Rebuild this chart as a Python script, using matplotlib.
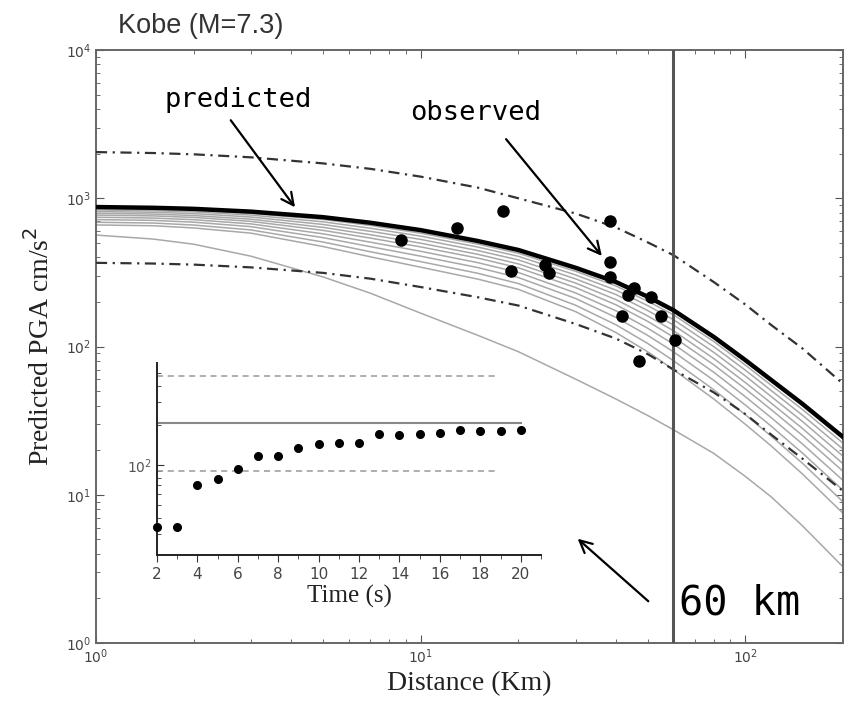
import numpy as np
import matplotlib
matplotlib.use("Agg")
import matplotlib.pyplot as plt
from matplotlib.ticker import LogLocator, NullFormatter, FixedLocator, MultipleLocator

dist = [1, 1.5, 2, 3, 5, 7, 10, 15, 20, 30, 40, 50, 60, 80, 100, 120, 150, 200]

# predicted PGA (thick black) and the +/- band (dash-dot)
pred = [873, 863, 849, 813, 746, 684, 610, 515, 448, 340, 272, 217, 176, 116,
        81, 59.6, 41, 24.5]
upper = [2050, 2020, 1980, 1890, 1720, 1580, 1400, 1180, 1000, 790, 635, 505,
         414, 272, 192, 140, 97, 56]
lower = [367, 363, 357, 342, 314, 287, 252, 215, 189, 142, 113, 89, 70, 49,
         35, 25.5, 17.5, 10.6]

# grey curves (one per time step)
grey_curves = [
    [854, 844, 829, 791, 720, 656, 582, 491, 426, 322, 256, 202, 164, 108,
     75, 54.9, 37.6, 22.3],
    [835, 825, 810, 771, 694, 628, 556, 469, 406, 304, 240, 189, 152, 99.7,
     69.3, 50.6, 34.4, 20.3],
    [814, 805, 788, 748, 666, 599, 528, 444, 384, 286, 224, 175, 140, 91.3,
     63.3, 46.1, 31.2, 18.2],
    [792, 783, 765, 723, 637, 568, 498, 419, 361, 268, 207, 161, 128, 82.9,
     57.2, 41.6, 28.0, 16.2],
    [770, 761, 743, 699, 608, 539, 470, 395, 340, 250, 191, 148, 116, 75.2,
     51.8, 37.6, 25.1, 14.4],
    [745, 736, 717, 672, 576, 506, 439, 368, 316, 230, 174, 133, 104, 67,
     45.9, 33.2, 22.0, 12.5],
    [718, 710, 690, 644, 543, 472, 407, 341, 292, 211, 157, 119, 92.3, 59.1,
     40.3, 29.1, 19.1, 10.7],
    [689, 681, 660, 612, 507, 436, 374, 312, 266, 190, 140, 105, 80.4, 51.1,
     34.7, 24.9, 16.3, 8.96],
    [661, 653, 631, 582, 473, 403, 343, 285, 243, 172, 124, 92.3, 70, 44.2,
     29.9, 21.4, 13.8, 7.5],
    [565, 531, 490, 407, 295, 229, 168, 119, 92.3, 60.3, 44.2, 34.3, 27.5,
     19.0, 13.3, 9.7, 6.17, 3.26],
]

# observed stations
obs_dist = [8.72, 12.9, 17.9, 19.0, 24.1, 24.9, 38.2, 38.2, 38.2, 45.5, 43.5,
            51.3, 41.7, 55.0, 60.9, 47.0]
obs_pga = [523, 627, 820, 325, 355, 312, 703, 373, 296, 247, 222,
           215, 161, 161, 111, 80]

# inset: prediction vs time
time_s = list(range(2, 21))
time_pga = [34, 34, 71, 78, 93, 118, 118, 134, 145, 147, 147, 173, 169, 173,
            175, 184, 181, 181, 184]
inset_obs = 208
inset_hi = 472
inset_lo = 90

cut_km = 60

fig = plt.figure(figsize=(8.48, 7.04), dpi=100)
ax = fig.add_axes([0.1132, 0.0866, 0.881, 0.8423])
ax.set_xscale("log")
ax.set_yscale("log")

for c in grey_curves:
    ax.plot(dist, c, color="#a8a8a8", lw=1.1, zorder=2)
ax.plot(dist, pred, color="black", lw=3.2, zorder=4)
dashdot = (0, (5, 2.5, 1, 2.5))
ax.plot(dist, upper, color="#333333", lw=1.6, linestyle=dashdot, zorder=3)
ax.plot(dist, lower, color="#333333", lw=1.6, linestyle=dashdot, zorder=3)
ax.plot(obs_dist, obs_pga, "o", color="black", ms=8, zorder=5)
ax.axvline(cut_km, color="#555555", lw=2.2, zorder=3)

ax.set_xlim(1, 200)
ax.set_ylim(1, 1e4)
ax.xaxis.set_major_locator(FixedLocator([1, 10, 100]))
ax.yaxis.set_major_locator(FixedLocator([1, 10, 100, 1000, 10000]))
ax.xaxis.set_minor_locator(LogLocator(base=10, subs=np.arange(2, 10)))
ax.yaxis.set_minor_locator(LogLocator(base=10, subs=np.arange(2, 10)))
ax.xaxis.set_minor_formatter(NullFormatter())
ax.yaxis.set_minor_formatter(NullFormatter())
ax.set_xticklabels(["$10^{0}$", "$10^{1}$", "$10^{2}$"])
ax.set_yticklabels(["$10^{0}$", "$10^{1}$", "$10^{2}$", "$10^{3}$", "$10^{4}$"])
ax.tick_params(which="both", direction="in", top=True, right=True,
               colors="#555555", labelcolor="#444444", labelsize=10)
ax.tick_params(which="major", length=6)
ax.tick_params(which="minor", length=3)
for s in ax.spines.values():
    s.set_color("#666666")
    s.set_linewidth(1.4)

ax.set_xlabel("Distance (Km)", family="Liberation Serif", fontsize=20,
              color="#222222", labelpad=3)
ax.set_ylabel("Predicted PGA cm/s$^2$", family="Liberation Serif", fontsize=20,
              color="#222222", labelpad=8)
fig.text(0.139, 0.953, "Kobe (M=7.3)", fontsize=19.5, color="#333333",
         family="Liberation Sans")

mono = "DejaVu Sans Mono"
arrow = dict(arrowstyle="->", color="black", lw=1.6, mutation_scale=22)
ax.annotate("", xy=(4.15, 840), xytext=(2.57, 3480), arrowprops=arrow)
ax.text(1.62, 4100, "predicted", family=mono, fontsize=19.5)
ax.annotate("", xy=(36.6, 395), xytext=(18.1, 2590), arrowprops=arrow)
ax.text(9.25, 3350, "observed", family=mono, fontsize=19.5)
ax.annotate("", xy=(30.0, 5.2), xytext=(51.0, 1.86), arrowprops=arrow)
ax.text(62.5, 1.55, "60 km", family=mono, fontsize=29)

# inset
ins = fig.add_axes([0.185, 0.2116, 0.453, 0.2727])
ins.set_yscale("log")
ins.plot(time_s, time_pga, "o", color="black", ms=5.5, zorder=4, clip_on=False)
ins.plot([2, 20], [inset_obs, inset_obs], color="#888888", lw=1.5)
ins.plot([2, 18.8], [inset_hi, inset_hi], color="#999999", lw=1.1,
         linestyle=(0, (4, 3)))
ins.plot([2, 18.8], [inset_lo, inset_lo], color="#999999", lw=1.1,
         linestyle=(0, (4, 3)))
ins.set_xlim(2, 21)
ins.set_ylim(20.8, 593)
ins.patch.set_alpha(0)
for s in ["top", "right"]:
    ins.spines[s].set_visible(False)
for s in ["left", "bottom"]:
    ins.spines[s].set_linewidth(1.4)
    ins.spines[s].set_color("#222222")
ins.xaxis.set_major_locator(MultipleLocator(2))
ins.xaxis.set_minor_locator(MultipleLocator(1))
ins.yaxis.set_major_locator(FixedLocator([100]))
ins.yaxis.set_minor_locator(LogLocator(base=10, subs=np.arange(2, 10)))
ins.yaxis.set_minor_formatter(NullFormatter())
ins.set_yticklabels(["$10^{2}$"])
ins.tick_params(axis="x", which="both", direction="out", labelsize=11,
                labelcolor="#444444", colors="#333333")
ins.tick_params(axis="y", which="both", direction="in", labelsize=10,
                labelcolor="#555555", colors="#333333")
ins.tick_params(which="major", length=5)
ins.tick_params(which="minor", length=3)
ins.set_xlabel("Time (s)", family="Liberation Serif", fontsize=18,
               color="#222222", labelpad=2)

fig.savefig("out.png", dpi=100)
